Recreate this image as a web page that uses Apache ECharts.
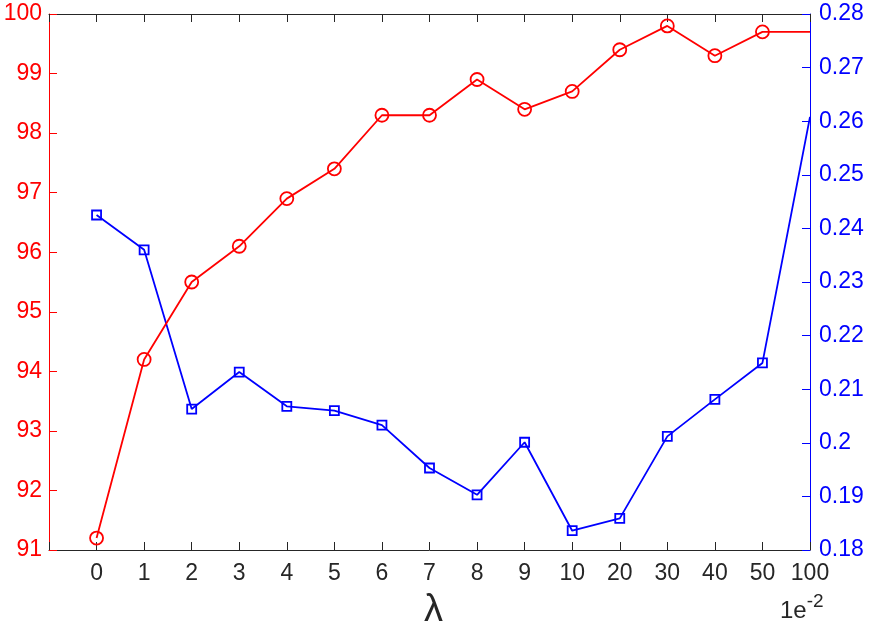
<!DOCTYPE html>
<html>
<head>
<meta charset="utf-8">
<script src="https://cdn.jsdelivr.net/npm/echarts@6/dist/echarts.min.js"></script>
<style>
  html, body { margin: 0; padding: 0; background: #fff; }
  #main { width: 872px; height: 631px; }
</style>
</head>
<body>
<div id="main"></div>
<script>
// x categories (lambda, in units of 1e-2)
var categories = ['0', '1', '2', '3', '4', '5', '6', '7', '8', '9', '10', '20', '30', '40', '50', '100'];
// left axis (red circles)
var redValues = [91.2, 94.2, 95.5, 96.1, 96.9, 97.4, 98.3, 98.3, 98.9, 98.4, 98.7, 99.4, 99.8, 99.3, 99.7, 99.7];
// right axis (blue squares)
var blueValues = [0.2425, 0.236, 0.2063, 0.2132, 0.2068, 0.206, 0.2033, 0.1953, 0.1903, 0.2001, 0.1836, 0.1859, 0.2012, 0.2081, 0.2149, 0.2608];

var font = 'Liberation Sans, Arial, sans-serif';
var chart = echarts.init(document.getElementById('main'));

function toPoints(vals) {
  return vals.map(function (v, i) {
    var p = { value: [i, v] };
    // last point has no marker in the original figure
    if (i === vals.length - 1) p.symbol = 'none';
    return p;
  });
}

var option = {
  animation: false,
  backgroundColor: '#fff',
  grid: { left: 49, right: 62, top: 14, bottom: 81, containLabel: false },
  graphic: [{
    type: 'text', left: 424, top: 592,
    style: { text: 'λ', font: '38px ' + font, fill: '#262626' }
  }, {
    type: 'text', left: 780, top: 592,
    style: {
      text: '{a|1e}{b|-2}',
      rich: {
        a: { fontSize: 24, fontFamily: font, fill: '#262626', verticalAlign: 'bottom' },
        b: { fontSize: 19, fontFamily: font, fill: '#262626', verticalAlign: 'top', padding: [0, 0, 12, 0] }
      }
    }
  }],
  xAxis: [{
    type: 'value', min: -1, max: 15, interval: 1,
    axisLine: { lineStyle: { color: '#262626', width: 1 }, onZero: false },
    axisTick: { inside: true, length: 8, lineStyle: { color: '#262626' } },
    axisLabel: {
      color: '#262626', fontSize: 23, fontFamily: font, margin: 12,
      formatter: function (v) { return v >= 0 && v < categories.length ? categories[v] : ''; }
    },
    splitLine: { show: false }
  }, {
    type: 'value', min: -1, max: 15, interval: 1, position: 'top',
    axisLine: { lineStyle: { color: '#262626', width: 1 }, onZero: false },
    axisTick: { inside: true, length: 8, lineStyle: { color: '#262626' } },
    axisLabel: { show: false },
    splitLine: { show: false }
  }],
  yAxis: [{
    type: 'value', min: 91, max: 100, interval: 1, position: 'left',
    axisLine: { show: true, onZero: false, lineStyle: { color: '#ff0000', width: 1 } },
    axisTick: { show: true, inside: true, length: 8, lineStyle: { color: '#ff0000' } },
    axisLabel: { color: '#ff0000', fontSize: 23, fontFamily: font, margin: 7 },
    splitLine: { show: false }
  }, {
    type: 'value', min: 0.18, max: 0.28, interval: 0.01, position: 'right',
    axisLine: { show: true, onZero: false, lineStyle: { color: '#0000ff', width: 1 } },
    axisTick: { show: true, inside: true, length: 8, lineStyle: { color: '#0000ff' } },
    axisLabel: {
      color: '#0000ff', fontSize: 23, fontFamily: font, margin: 9,
      formatter: function (v) { return String(parseFloat(v.toFixed(2))); }
    },
    splitLine: { show: false }
  }],
  series: [{
    type: 'line', xAxisIndex: 0, yAxisIndex: 0,
    data: toPoints(redValues),
    symbol: 'circle', symbolSize: 13,
    itemStyle: { color: 'rgba(255,255,255,0)', borderColor: '#ff0000', borderWidth: 1.8 },
    lineStyle: { color: '#ff0000', width: 1.8 },
    z: 3
  }, {
    type: 'line', xAxisIndex: 0, yAxisIndex: 1,
    data: toPoints(blueValues),
    symbol: 'rect', symbolSize: 9,
    itemStyle: { color: 'rgba(255,255,255,0)', borderColor: '#0000ff', borderWidth: 1.8 },
    lineStyle: { color: '#0000ff', width: 1.8 },
    z: 2
  }]
};

chart.setOption(option);
</script>
</body>
</html>
